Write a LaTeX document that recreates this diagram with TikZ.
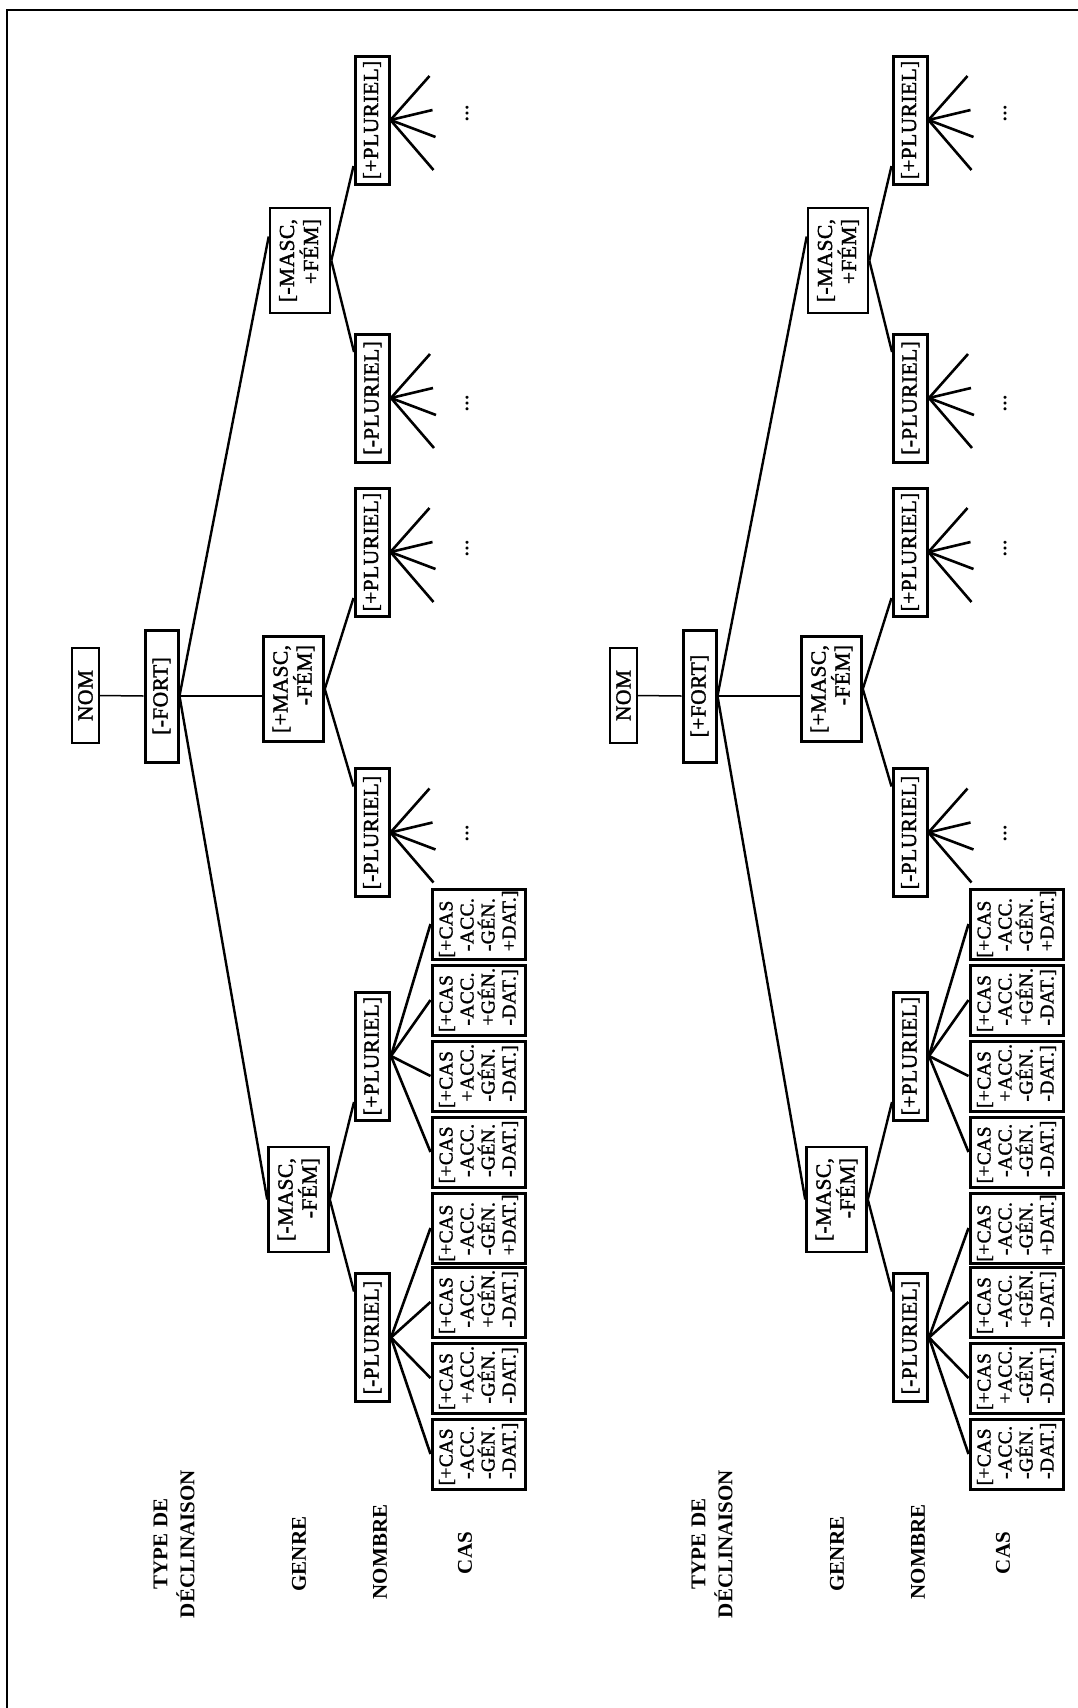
\documentclass[tikz,border=0pt]{standalone}
\usepackage{fontspec}
\setmainfont{Liberation Serif}
\usetikzlibrary{calc}
\newfontfamily\treeface{Liberation Serif}[FakeBold=1.6,LetterSpace=2]
\newcommand\treefont{\treeface\fontsize{21.5}{24}\selectfont}
\newcommand\casfont{\treeface\fontsize{19.5}{21}\selectfont}
\newcommand\lvlfont{\fontsize{21}{27}\selectfont\bfseries}
\tikzset{
  base/.style={draw, rotate=90, inner sep=0pt, font=\treefont, align=center},
  nombox/.style={base, line width=1.6pt, minimum width=95pt, minimum height=27pt},
  fortbox/.style={base, line width=3pt, minimum width=132pt, minimum height=33pt},
  genbox/.style={base, line width=2.6pt, minimum width=105pt, minimum height=60pt, align=right},
  plurbox/.style={base, line width=3pt, minimum width=128pt, minimum height=34pt},
  casbox/.style={base, line width=3pt, minimum width=70pt, minimum height=93pt, align=left, font=\casfont},
  lvl/.style={rotate=90, inner sep=0pt, font=\lvlfont, align=center},
  dotsnode/.style={rotate=90, inner sep=0pt, font=\treefont},
  link/.style={line width=2.4pt},
  thinlink/.style={line width=1.5pt},
  fan/.style={line width=2.6pt},
}
\newcommand\mytree[3]{%
\begin{scope}[xshift=#3pt]
  \node[nombox] (#1nom) at (85.5,695.5) {NOM};
  \node[fortbox] (#1fort) at (161.5,696) {[#2]};
  \node[genbox] (#1g1) at (298.5,1199.5) {[-MASC,\\-FÉM]};
  \node[genbox] (#1g2) at (293.5,689) {[+MASC,\\-FÉM]};
  \node[genbox] (#1g3) at (300,260.5) {[-MASC,\\+FÉM]};
  \node[plurbox] (#1p1) at (372.5,1337.5) {[-PLURIEL]};
  \node[plurbox] (#1p2) at (372.5,1056) {[+PLURIEL]};
  \node[plurbox] (#1p3) at (372,832.5) {[-PLURIEL]};
  \node[plurbox] (#1p4) at (372,552) {[+PLURIEL]};
  \node[plurbox] (#1p5) at (372.5,398) {[-PLURIEL]};
  \node[plurbox] (#1p6) at (372,120) {[+PLURIEL]};
  \node[casbox] (#1c1) at (478.5,1454) {[+CAS\\\phantom{[}-ACC.\\\phantom{[}-GÉN.\\\phantom{[}-DAT.]};
  \node[casbox] (#1c2) at (478.5,1378) {[+CAS\\\phantom{[}+ACC.\\\phantom{[}-GÉN.\\\phantom{[}-DAT.]};
  \node[casbox] (#1c3) at (478.5,1302) {[+CAS\\\phantom{[}-ACC.\\\phantom{[}+GÉN.\\\phantom{[}-DAT.]};
  \node[casbox] (#1c4) at (478.5,1228) {[+CAS\\\phantom{[}-ACC.\\\phantom{[}-GÉN.\\\phantom{[}+DAT.]};
  \node[casbox] (#1c5) at (478.5,1152) {[+CAS\\\phantom{[}-ACC.\\\phantom{[}-GÉN.\\\phantom{[}-DAT.]};
  \node[casbox] (#1c6) at (478.5,1076) {[+CAS\\\phantom{[}+ACC.\\\phantom{[}-GÉN.\\\phantom{[}-DAT.]};
  \node[casbox] (#1c7) at (478.5,1000) {[+CAS\\\phantom{[}-ACC.\\\phantom{[}+GÉN.\\\phantom{[}-DAT.]};
  \node[casbox] (#1c8) at (478.5,924) {[+CAS\\\phantom{[}-ACC.\\\phantom{[}-GÉN.\\\phantom{[}+DAT.]};
  \node[lvl] (#1l1) at (174,1544) {TYPE DE\\DÉCLINAISON};
  \node[lvl] (#1l2) at (299,1554) {GENRE};
  \node[lvl] (#1l3) at (380,1552) {NOMBRE};
  \node[lvl] (#1l4) at (465,1553) {CAS};
  \node[dotsnode] (#1d3) at (467,833) {...};
  \node[dotsnode] (#1d4) at (467,548) {...};
  \node[dotsnode] (#1d5) at (467,403) {...};
  \node[dotsnode] (#1d6) at (467,113) {...};
  % connectors
  \draw[thinlink] (#1nom.south) -- (#1fort.north);
  \draw[thinlink] (#1fort.south) -- (#1fort.south -| #1g2.north);
  \draw[link] (#1fort.south) -- (#1g1.north);
  \draw[link] (#1fort.south) -- ($(#1g3.north)+(0,-24)$);
  \draw[link] (#1g1.south) -- ($(#1p1.north)+(0,-46)$);
  \draw[link] (#1g1.south) -- ($(#1p2.north)+(0,46)$);
  \draw[link] (#1g2.south) -- ($(#1p3.north)+(0,-46)$);
  \draw[link] (#1g2.south) -- ($(#1p4.north)+(0,46)$);
  \draw[link] (#1g3.south) -- ($(#1p5.north)+(0,-46)$);
  \draw[link] (#1g3.south) -- ($(#1p6.north)+(0,46)$);
  \foreach \k in {1,2,3,4} {\draw[fan] (#1p1.south) -- (#1c\k.north);}
  \foreach \k in {5,6,7,8} {\draw[fan] (#1p2.south) -- (#1c\k.north);}
  \foreach \k in {3,4,5,6} {
    \foreach \dx/\dy [count=\j] in {39/-44,42/-10,45/17,43/50} {
      \coordinate (#1f\k\j) at ($(#1p\k.south)+(\dx,\dy)$);
      \draw[fan] (#1p\k.south) -- (#1f\k\j);
    }
  }
\end{scope}}
\begin{document}
\begin{tikzpicture}[x=1pt,y=-1pt]
  \useasboundingbox[fill=white] (0,0) rectangle (1078,1708);
  \draw[line width=1.4pt] (7,1708) -- (7,10) -- (1078,10);
  \mytree{t}{-FORT}{0}
  \mytree{b}{+FORT}{538}
\end{tikzpicture}
\end{document}
